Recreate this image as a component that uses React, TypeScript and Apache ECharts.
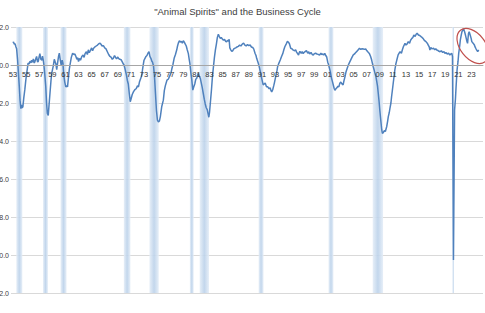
import React, { useEffect, useRef } from "react";
import * as echarts from "echarts";

const TITLE = '"Animal Spirits" and the Business Cycle';

// Decimal year of each reading
const dates: number[] = [
  1953.00, 1953.08, 1953.17, 1953.30, 1953.45, 1953.55, 1953.70, 1953.80, 1953.95, 1954.07,
  1954.20, 1954.30, 1954.40, 1954.50, 1954.65, 1954.80, 1954.95, 1955.10, 1955.30, 1955.45,
  1955.60, 1955.75, 1955.85, 1956.00, 1956.10, 1956.25, 1956.36, 1956.50, 1956.60, 1956.75,
  1956.86, 1957.00, 1957.10, 1957.25, 1957.40, 1957.50, 1957.60, 1957.70, 1957.85, 1958.00,
  1958.12, 1958.24, 1958.38, 1958.50, 1958.65, 1958.80, 1958.90, 1959.05, 1959.15, 1959.30,
  1959.45, 1959.55, 1959.67, 1959.80, 1959.95, 1960.07, 1960.20, 1960.35, 1960.50, 1960.62,
  1960.75, 1960.90, 1961.05, 1961.20, 1961.32, 1961.45, 1961.60, 1961.72, 1961.90, 1962.10,
  1962.30, 1962.45, 1962.60, 1962.75, 1962.90, 1963.00, 1963.15, 1963.30, 1963.50, 1963.70,
  1963.85, 1964.00, 1964.20, 1964.35, 1964.50, 1964.65, 1964.80, 1965.00, 1965.15, 1965.30,
  1965.50, 1965.70, 1965.90, 1966.10, 1966.30, 1966.45, 1966.60, 1966.80, 1967.00, 1967.20,
  1967.40, 1967.60, 1967.80, 1968.00, 1968.15, 1968.30, 1968.50, 1968.65, 1968.80, 1969.00,
  1969.10, 1969.30, 1969.50, 1969.70, 1969.85, 1969.95, 1970.10, 1970.30, 1970.45, 1970.60,
  1970.75, 1970.90, 1971.05, 1971.20, 1971.40, 1971.60, 1971.80, 1972.00, 1972.15, 1972.30,
  1972.45, 1972.60, 1972.75, 1972.90, 1973.00, 1973.15, 1973.30, 1973.45, 1973.60, 1973.76,
  1973.90, 1974.05, 1974.20, 1974.30, 1974.45, 1974.60, 1974.75, 1974.90, 1975.05, 1975.20,
  1975.35, 1975.50, 1975.70, 1975.95, 1976.10, 1976.25, 1976.50, 1976.70, 1976.90, 1977.10,
  1977.25, 1977.40, 1977.60, 1977.80, 1978.00, 1978.12, 1978.24, 1978.40, 1978.55, 1978.70,
  1978.85, 1979.00, 1979.15, 1979.30, 1979.45, 1979.60, 1979.77, 1979.90, 1980.00, 1980.15,
  1980.30, 1980.45, 1980.60, 1980.75, 1980.90, 1981.05, 1981.20, 1981.30, 1981.45, 1981.60,
  1981.75, 1981.90, 1982.05, 1982.20, 1982.35, 1982.50, 1982.65, 1982.80, 1982.90, 1983.00,
  1983.15, 1983.30, 1983.45, 1983.60, 1983.75, 1983.90, 1984.05, 1984.20, 1984.35, 1984.50,
  1984.65, 1984.80, 1985.00, 1985.15, 1985.30, 1985.45, 1985.60, 1985.75, 1985.90, 1986.00,
  1986.10, 1986.25, 1986.40, 1986.55, 1986.70, 1986.85, 1987.00, 1987.20, 1987.40, 1987.60,
  1987.80, 1988.00, 1988.20, 1988.40, 1988.60, 1988.80, 1989.00, 1989.20, 1989.40, 1989.60,
  1989.75, 1989.95, 1990.10, 1990.20, 1990.35, 1990.45, 1990.60, 1990.70, 1990.85, 1990.97,
  1991.10, 1991.20, 1991.35, 1991.50, 1991.70, 1991.90, 1992.10, 1992.25, 1992.40, 1992.50,
  1992.65, 1992.80, 1992.90, 1993.05, 1993.15, 1993.30, 1993.40, 1993.60, 1993.80, 1994.00,
  1994.20, 1994.35, 1994.50, 1994.70, 1994.90, 1995.05, 1995.20, 1995.30, 1995.40, 1995.60,
  1995.80, 1996.00, 1996.15, 1996.30, 1996.45, 1996.60, 1996.70, 1996.80, 1997.00, 1997.15,
  1997.30, 1997.50, 1997.65, 1997.80, 1998.00, 1998.15, 1998.30, 1998.50, 1998.70, 1998.85,
  1999.00, 1999.20, 1999.40, 1999.60, 1999.80, 2000.00, 2000.15, 2000.30, 2000.45, 2000.60,
  2000.75, 2000.90, 2001.05, 2001.15, 2001.30, 2001.45, 2001.60, 2001.75, 2001.90, 2002.05,
  2002.15, 2002.30, 2002.45, 2002.60, 2002.75, 2002.90, 2003.05, 2003.20, 2003.40, 2003.55,
  2003.70, 2003.85, 2004.00, 2004.20, 2004.40, 2004.55, 2004.75, 2004.95, 2005.15, 2005.30,
  2005.45, 2005.65, 2005.90, 2006.10, 2006.30, 2006.50, 2006.65, 2006.85, 2007.00, 2007.20,
  2007.40, 2007.60, 2007.76, 2007.90, 2008.00, 2008.15, 2008.27, 2008.40, 2008.50, 2008.65,
  2008.77, 2008.90, 2009.00, 2009.15, 2009.30, 2009.40, 2009.55, 2009.70, 2009.85, 2010.05,
  2010.20, 2010.30, 2010.45, 2010.55, 2010.70, 2010.80, 2010.95, 2011.05, 2011.20, 2011.30,
  2011.45, 2011.60, 2011.80, 2012.00, 2012.10, 2012.30, 2012.45, 2012.60, 2012.85, 2013.00,
  2013.15, 2013.35, 2013.55, 2013.70, 2013.90, 2014.05, 2014.20, 2014.40, 2014.55, 2014.70,
  2014.90, 2015.10, 2015.30, 2015.45, 2015.60, 2015.80, 2016.05, 2016.25, 2016.40, 2016.55,
  2016.65, 2016.80, 2016.95, 2017.20, 2017.40, 2017.55, 2017.70, 2017.90, 2018.05, 2018.20,
  2018.40, 2018.60, 2018.80, 2018.95, 2019.10, 2019.30, 2019.50, 2019.70, 2019.85, 2020.00,
  2020.10, 2020.25, 2020.42, 2020.55, 2020.65, 2020.80, 2020.95, 2021.05, 2021.20, 2021.30,
  2021.45, 2021.55, 2021.70, 2021.80, 2021.95, 2022.10, 2022.20, 2022.30, 2022.40, 2022.50,
  2022.55, 2022.65, 2022.80, 2022.95, 2023.05, 2023.25, 2023.45, 2023.55, 2023.65, 2023.80,
  2023.95, 2024.10,
];

// Index reading at each date
const values: number[] = [
  1.17, 1.22, 1.10, 1.12, 0.95, 0.85, 0.25, -0.30, -1.10, -1.85,
  -2.30, -2.10, -2.25, -2.20, -1.70, -1.30, -0.80, -0.40, 0.10, 0.05,
  0.20, 0.12, 0.25, 0.15, 0.32, 0.10, 0.20, 0.35, 0.45, 0.15,
  0.20, 0.45, 0.60, 0.30, 0.25, 0.47, 0.30, 0.05, -0.50, -1.15,
  -2.00, -2.55, -2.65, -2.10, -1.45, -0.80, -0.45, -0.20, -0.05, 0.30,
  0.15, 0.05, -0.25, 0.10, 0.45, 0.62, 0.30, 0.00, 0.25, 0.10,
  -0.55, -0.90, -1.15, -1.10, -1.15, -0.70, -0.20, 0.05, 0.40, 0.62,
  0.55, 0.58, 0.45, 0.30, 0.38, 0.18, 0.35, 0.25, 0.45, 0.53,
  0.40, 0.60, 0.70, 0.55, 0.80, 0.65, 0.75, 0.90, 0.75, 0.88,
  0.95, 1.00, 1.05, 1.12, 1.15, 1.08, 1.00, 1.02, 0.90, 0.85,
  0.70, 0.55, 0.45, 0.40, 0.30, 0.35, 0.50, 0.40, 0.32, 0.42,
  0.35, 0.30, 0.28, 0.15, 0.05, 0.00, -0.20, -0.50, -0.80, -1.00,
  -1.50, -1.93, -1.75, -1.55, -1.40, -1.30, -1.25, -1.10, -1.15, -0.90,
  -0.75, -0.60, -0.30, 0.05, 0.25, 0.35, 0.45, 0.50, 0.62, 0.70,
  0.45, 0.35, 0.20, 0.15, -0.05, -0.60, -1.50, -2.40, -2.90, -3.00,
  -2.95, -2.70, -2.20, -1.85, -1.35, -1.10, -0.80, -0.75, -0.60, -0.44,
  -0.20, 0.00, 0.35, 0.55, 0.80, 1.00, 1.15, 1.28, 1.20, 1.25,
  1.15, 1.28, 1.20, 1.10, 1.00, 0.80, 0.60, 0.30, 0.09, -0.40,
  -0.80, -1.32, -1.15, -1.00, -0.75, -0.70, -0.50, -0.44, -0.60, -0.70,
  -0.95, -1.20, -1.50, -1.80, -2.05, -2.25, -2.35, -2.60, -2.75, -2.50,
  -1.90, -1.30, -0.60, -0.10, 0.40, 0.80, 1.10, 1.45, 1.62, 1.50,
  1.40, 1.45, 1.35, 1.30, 1.35, 1.25, 1.22, 1.30, 1.25, 1.35,
  0.90, 0.80, 0.72, 0.75, 0.85, 0.88, 0.90, 0.95, 0.98, 1.05,
  1.00, 1.10, 1.15, 1.05, 1.00, 1.08, 1.02, 1.05, 0.95, 0.92,
  0.85, 0.62, 0.50, 0.35, 0.20, 0.09, -0.10, -0.26, -0.50, -0.70,
  -0.90, -1.05, -1.00, -0.95, -1.14, -1.15, -1.25, -1.20, -1.35, -1.42,
  -1.30, -1.10, -0.95, -0.70, -0.53, -0.30, -0.09, 0.10, 0.26, 0.45,
  0.61, 0.80, 0.96, 1.10, 1.25, 1.20, 1.12, 1.00, 0.88, 0.85,
  0.78, 0.75, 0.80, 0.68, 0.60, 0.52, 0.65, 0.72, 0.62, 0.70,
  0.60, 0.68, 0.72, 0.76, 0.62, 0.70, 0.58, 0.66, 0.55, 0.52,
  0.60, 0.62, 0.58, 0.56, 0.52, 0.62, 0.55, 0.58, 0.52, 0.62,
  0.50, 0.42, 0.15, 0.05, -0.15, -0.35, -0.65, -0.85, -1.05, -1.25,
  -1.33, -1.25, -1.20, -1.12, -1.15, -0.96, -0.90, -0.98, -1.05, -0.80,
  -0.60, -0.35, -0.20, 0.00, 0.15, 0.26, 0.40, 0.53, 0.58, 0.65,
  0.70, 0.78, 0.88, 0.82, 0.86, 0.84, 0.82, 0.85, 0.76, 0.68,
  0.61, 0.45, 0.26, 0.05, -0.09, -0.28, -0.44, -0.60, -0.79, -1.10,
  -1.50, -1.95, -2.37, -2.90, -3.42, -3.60, -3.55, -3.45, -3.50, -3.25,
  -2.95, -2.72, -2.50, -2.28, -2.00, -1.67, -1.25, -0.96, -0.55, -0.26,
  0.05, 0.26, 0.53, 0.65, 0.70, 0.62, 0.80, 0.96, 1.14, 1.05,
  1.10, 1.23, 1.15, 1.30, 1.40, 1.45, 1.58, 1.50, 1.62, 1.67,
  1.58, 1.55, 1.49, 1.45, 1.40, 1.30, 1.23, 1.15, 1.05, 0.95,
  0.79, 0.92, 0.85, 0.88, 0.80, 0.85, 0.79, 0.76, 0.72, 0.70,
  0.75, 0.66, 0.70, 0.61, 0.65, 0.58, 0.62, 0.53, 0.58, 0.61,
  0.44, -10.26, -2.37, -1.80, -1.14, -0.26, 0.20, 0.61, 1.00, 1.32,
  1.60, 1.76, 1.85, 1.90, 1.75, 1.55, 1.40, 1.25, 1.14, 1.50,
  1.67, 1.75, 1.58, 1.40, 1.23, 1.15, 1.05, 0.95, 0.88, 0.78,
  0.70, 0.80,
];

// NBER recessions (peak month start, trough month end) in decimal years
const recessionStart: number[] = [1953.50, 1957.58, 1960.25, 1969.92, 1973.83, 1980.00, 1981.50, 1990.50, 2001.17, 2007.92, 2020.08];
const recessionEnd: number[] = [1954.42, 1958.33, 1961.17, 1970.92, 1975.25, 1980.58, 1982.92, 1991.25, 2001.92, 2009.50, 2020.33];

// x-axis tick labels (years)
const yearTicks: number[] = [
  1953, 1955, 1957, 1959, 1961, 1963, 1965, 1967, 1969, 1971, 1973, 1975,
  1977, 1979, 1981, 1983, 1985, 1987, 1989, 1991, 1993, 1995, 1997, 1999,
  2001, 2003, 2005, 2007, 2009, 2011, 2013, 2015, 2017, 2019, 2021, 2023,
];

// Highlighted recent period (centre of the red ellipse)
const highlightCenter: [number, number] = [2023.2, 1.0];

const SHIFT = 20; // chart is shifted left so the y labels are clipped like the source
const FONT = "Liberation Sans";

export default function App() {
  const ref = useRef<HTMLDivElement>(null);

  useEffect(() => {
    if (!ref.current) return;
    const chart = echarts.init(ref.current, undefined, { renderer: "svg" });
    const lineData = dates.map((d, i) => [d, values[i]]);
    const barFill = {
      type: "linear",
      x: 0, y: 0, x2: 1, y2: 0,
      colorStops: [
        { offset: 0, color: "#e4edf7" },
        { offset: 0.5, color: "#bcd2ea" },
        { offset: 1, color: "#e4edf7" },
      ],
    };
    const titleGraphic = {
      type: "text",
      x: 237.5 + SHIFT,
      y: 11,
      style: {
        text: TITLE,
        fontFamily: FONT,
        fontSize: 9.5,
        fill: "#404040",
        textAlign: "center",
        textVerticalAlign: "middle",
      },
    };
    const xAxisBase = {
      type: "value",
      min: 1952.69,
      max: 2024.76,
      z: 10,
      axisLine: { onZero: false, lineStyle: { color: "#a6a6a6", width: 1 } },
      axisTick: { show: false },
      splitLine: { show: false },
      axisLabel: {
        customValues: yearTicks,
        formatter: (v: number) => String(Math.round(v) % 100).padStart(2, "0"),
        fontFamily: FONT,
        fontSize: 7.5,
        color: "#333333",
        margin: 5,
      },
    };
    chart.setOption({
      animation: false,
      backgroundColor: "#ffffff",
      grid: { left: 31, right: 2, top: 27, bottom: 20, containLabel: false },
      xAxis: { ...xAxisBase, offset: 0 },
      yAxis: {
        type: "value",
        min: -12,
        max: 2,
        interval: 2,
        axisLine: { show: false },
        axisTick: { show: false },
        splitLine: { lineStyle: { color: "#d9d9d9", width: 1 } },
        axisLabel: {
          formatter: (v: number) => v.toFixed(1),
          fontFamily: FONT,
          fontSize: 7,
          color: "#404040",
          margin: 2,
        },
      },
      series: [
        {
          type: "line",
          data: lineData,
          showSymbol: false,
          symbol: "none",
          lineStyle: { color: "#4f81bd", width: 1.5 },
          z: 2,
          markArea: {
            silent: true,
            itemStyle: { color: barFill as any, opacity: 0.9 },
            data: recessionStart.map((s, i) => [{ xAxis: s }, { xAxis: recessionEnd[i] }]),
          },
        },
      ],
      graphic: [titleGraphic],
    });
    // place the category axis on the zero line of the value axis
    const zeroPx = chart.convertToPixel({ yAxisIndex: 0 }, 0) as number;
    const bottomPx = chart.convertToPixel({ yAxisIndex: 0 }, -12) as number;
    const c = chart.convertToPixel({ gridIndex: 0 }, highlightCenter) as number[];
    chart.setOption({
      xAxis: { ...xAxisBase, offset: -(bottomPx - zeroPx) },
      graphic: [
        titleGraphic,
        {
          type: "ellipse",
          x: c[0],
          y: c[1],
          rotation: (-52 * Math.PI) / 180,
          shape: { cx: 0, cy: 0, rx: 20, ry: 12.5 },
          style: { fill: "none", stroke: "#c0504d", lineWidth: 1.2 },
          z: 10,
        },
      ],
    }, { replaceMerge: ["graphic"] });
    return () => chart.dispose();
  }, []);

  return (
    <div
      ref={ref}
      style={{ position: "absolute", left: -SHIFT, top: 0, width: 485 + SHIFT, height: 313, background: "#fff" }}
    />
  );
}
